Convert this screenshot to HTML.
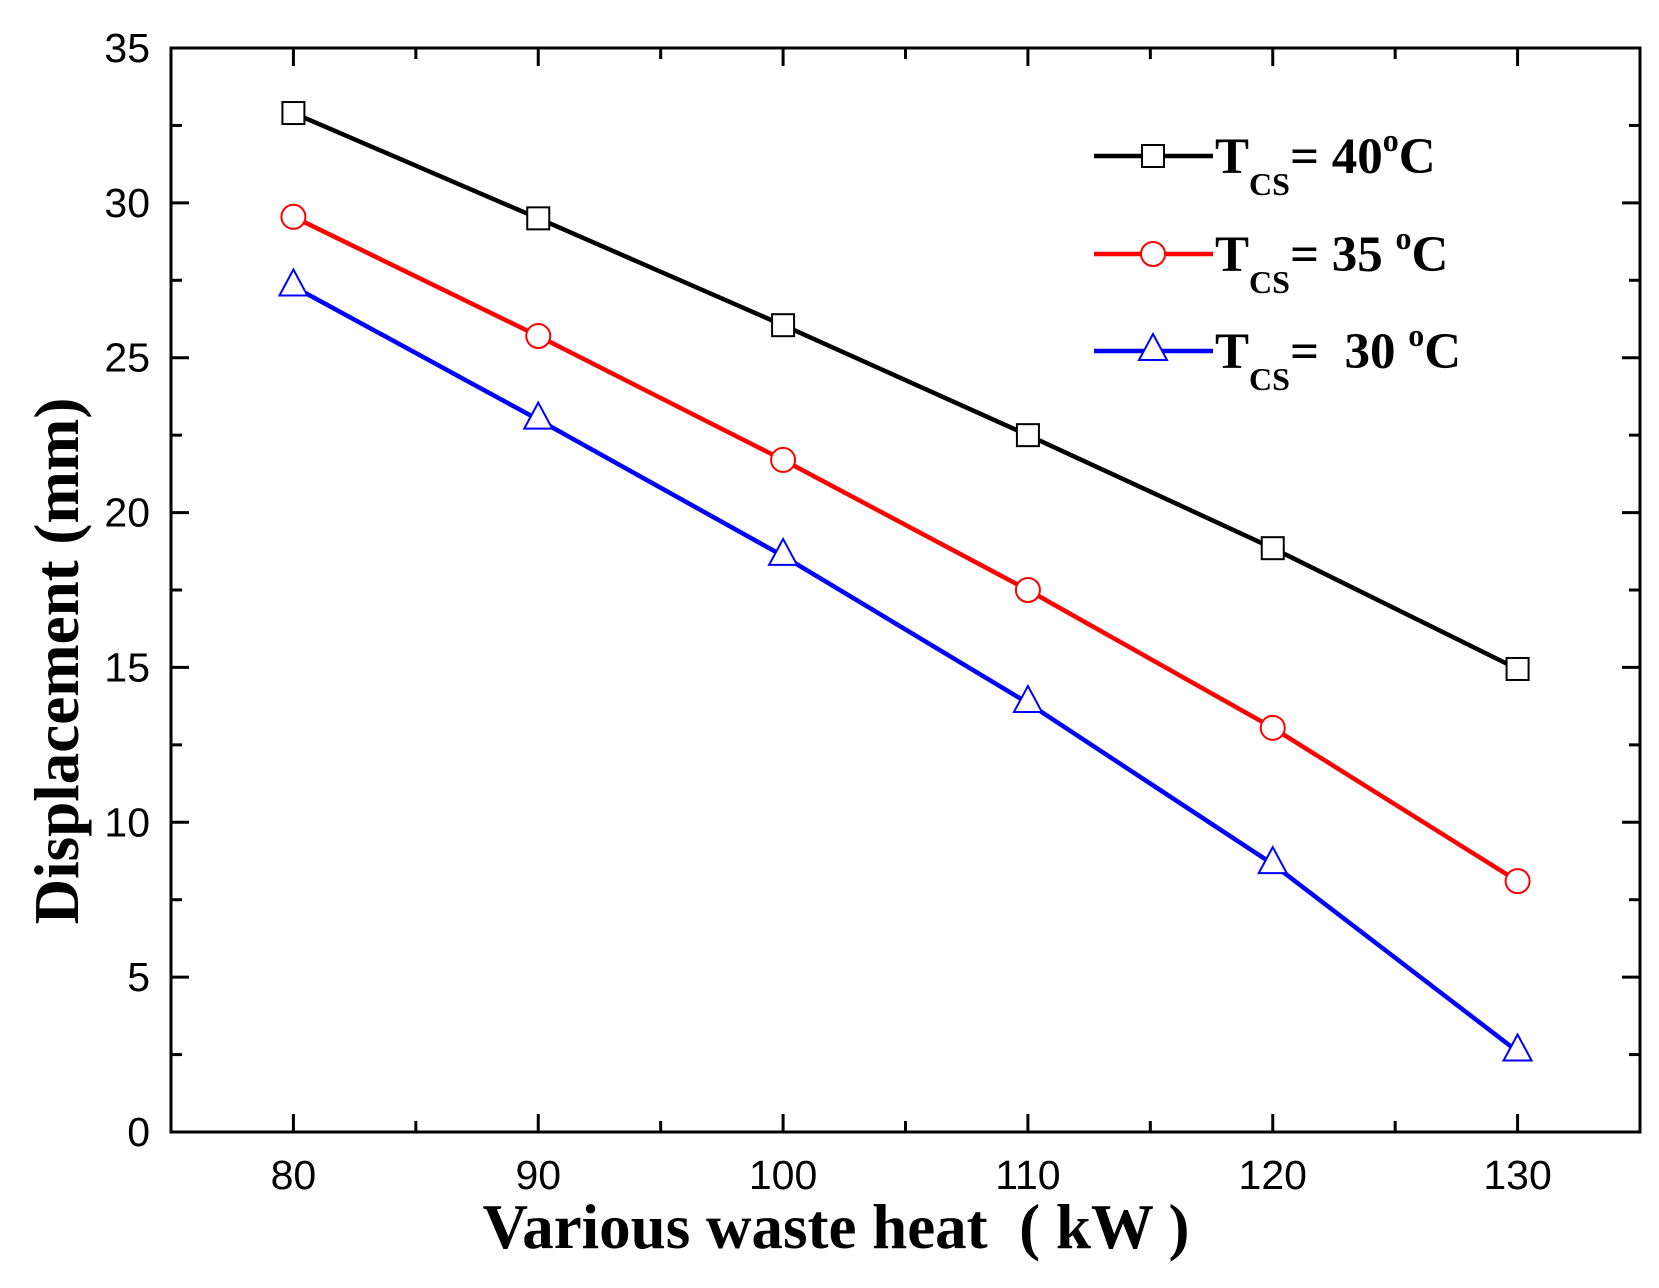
<!DOCTYPE html>
<html><head><meta charset="utf-8"><style>body{margin:0;background:#fff}svg{display:block}</style></head>
<body>
<svg id="c" width="1659" height="1288" xmlns="http://www.w3.org/2000/svg">
<g id="plot"></g>
<text transform="translate(78,661) rotate(-90)" text-anchor="middle" font-family="Liberation Serif, serif" font-weight="bold" font-size="63">Displacement (mm)</text>
<text x="836" y="1248" text-anchor="middle" font-family="Liberation Serif, serif" font-weight="bold" font-size="63" xml:space="preserve">Various waste heat  ( kW )</text>
<g font-family="Liberation Serif, serif" font-weight="bold">
<g><line x1="1094" y1="156" x2="1213" y2="156" stroke="#000" stroke-width="4.5"/><rect x="1142" y="145" width="22" height="22" fill="#fff" stroke="#000" stroke-width="2"/><text x="1215" y="173" font-size="51">T<tspan font-size="32" dy="22">CS</tspan><tspan dy="-22">= 40</tspan><tspan font-size="32" dy="-22">o</tspan><tspan dy="22">C</tspan></text></g>
<g><line x1="1094" y1="254" x2="1213" y2="254" stroke="#f00" stroke-width="4.5"/><circle cx="1153" cy="254" r="12" fill="#fff" stroke="#f00" stroke-width="2"/><text x="1215" y="271" font-size="51">T<tspan font-size="32" dy="22">CS</tspan><tspan dy="-22">= 35 </tspan><tspan font-size="32" dy="-22">o</tspan><tspan dy="22">C</tspan></text></g>
<g><line x1="1094" y1="351" x2="1213" y2="351" stroke="#00f" stroke-width="4.5"/><polygon points="1153,334 1139,360 1167,360" fill="#fff" stroke="#00f" stroke-width="2"/><text x="1215" y="368" font-size="51" xml:space="preserve">T<tspan font-size="32" dy="22">CS</tspan><tspan dy="-22">=  30 </tspan><tspan font-size="32" dy="-22">o</tspan><tspan dy="22">C</tspan></text></g>
</g>
</svg>
<script>
const categories=[80,90,100,110,120,130];
const s40=[32.9,29.5,26.05,22.5,18.85,14.95];
const s35=[29.55,25.7,21.7,17.5,13.05,8.1];
const s30=[27.3,23.0,18.6,13.85,8.65,2.6];
const xTicks=[80,90,100,110,120,130];
const yTicks=[0,5,10,15,20,25,30,35];
const NS='http://www.w3.org/2000/svg';
const L=171,R=1640,T=48,B=1132;
const X=v=>L+(v-75)/60*(R-L);
const Y=v=>B-v/35*(B-T);
const g=document.getElementById('plot');
function el(t,a){const e=document.createElementNS(NS,t);for(const k in a)e.setAttribute(k,a[k]);g.appendChild(e);return e;}
for(let v=75;v<=135;v+=5){const maj=v%10===0;const len=maj?18:11;
 let e=el('line',{x1:X(v),x2:X(v),y1:B,y2:B-len,stroke:'#000','stroke-width':3});
 
 e=el('line',{x1:X(v),x2:X(v),y1:T,y2:T+len,stroke:'#000','stroke-width':3});
 }
for(let v=0;v<=35;v+=2.5){const maj=v%5===0;const len=maj?18:11;
 let e=el('line',{x1:L,x2:L+len,y1:Y(v),y2:Y(v),stroke:'#000','stroke-width':3});
 
 e=el('line',{x1:R,x2:R-len,y1:Y(v),y2:Y(v),stroke:'#000','stroke-width':3});
 }
xTicks.forEach(v=>{const t=el('text',{x:X(v),y:1189,'text-anchor':'middle','font-family':'Liberation Sans, sans-serif','font-size':41});t.textContent=v;
 });
yTicks.forEach(v=>{const t=el('text',{x:150,y:Y(v)+14,'text-anchor':'end','font-family':'Liberation Sans, sans-serif','font-size':41});t.textContent=v;
 });
const f=el('rect',{x:L,y:T,width:R-L,height:B-T,fill:'none',stroke:'#000','stroke-width':3});

function series(vals,col,mk,name){
 const p=el('polyline',{points:vals.map((v,i)=>X(categories[i])+','+Y(v)).join(' '),fill:'none',stroke:col,'stroke-width':4.5});
 
 vals.forEach((v,i)=>{const x=X(categories[i]),y=Y(v);let m;
  if(mk==='s')m=el('rect',{x:x-11,y:y-11,width:22,height:22,fill:'#fff',stroke:col,'stroke-width':2});
  else if(mk==='c')m=el('circle',{cx:x,cy:y,r:12,fill:'#fff',stroke:col,'stroke-width':2});
  else m=el('polygon',{points:`${x},${y-17} ${x-14},${y+9} ${x+14},${y+9}`,fill:'#fff',stroke:col,'stroke-width':2});
  });
}
series(s40,'#000','s','series-40');
series(s35,'#f00','c','series-35');
series(s30,'#00f','t','series-30');
</script>
</body></html>
